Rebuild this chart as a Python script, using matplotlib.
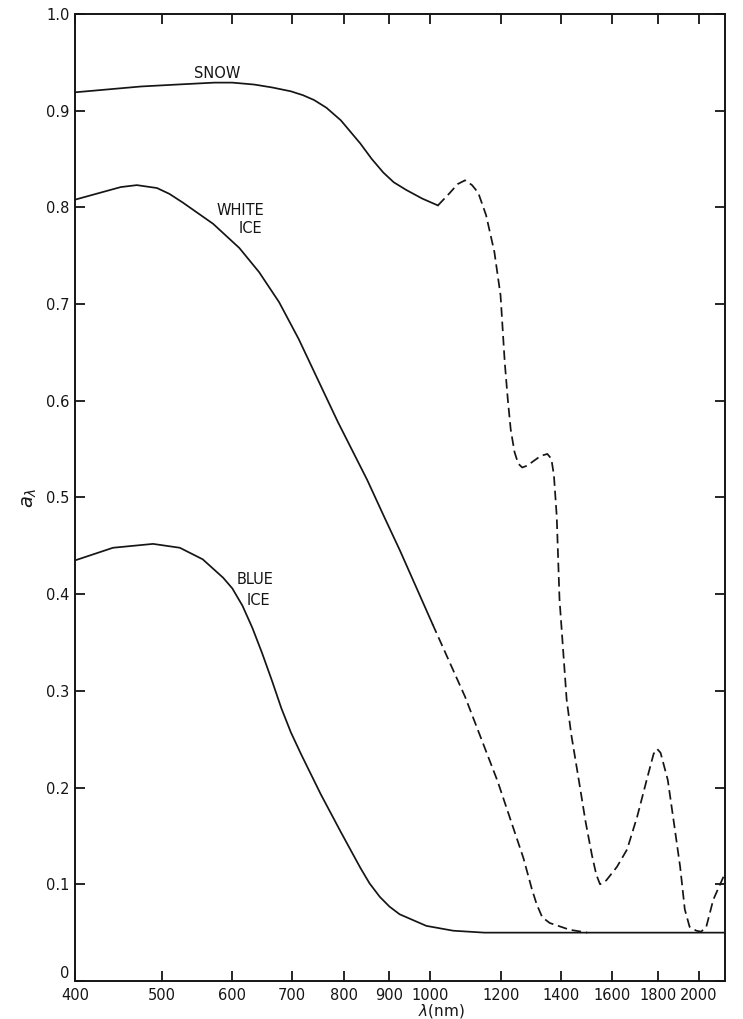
import matplotlib
matplotlib.use("Agg")
import matplotlib.pyplot as plt
from matplotlib.ticker import FixedLocator, FixedFormatter, NullLocator

# ---- data ----
snow_solid_wl = [400, 474, 520, 573, 600, 635, 665, 698, 720, 741, 765, 794, 835, 860, 886, 910, 940, 980, 1020]
snow_solid_a = [0.919, 0.925, 0.927, 0.929, 0.929, 0.927, 0.924, 0.920, 0.916, 0.911, 0.903, 0.890, 0.866,
                0.850, 0.836, 0.826, 0.818, 0.809, 0.802]

snow_dash_wl = [1020, 1052, 1073, 1094, 1114, 1132, 1155, 1180, 1199, 1212, 1222, 1231, 1243, 1255,
                1268, 1285, 1307, 1330, 1353, 1367, 1376, 1386, 1396, 1422, 1439, 1469, 1493, 1518,
                1535, 1550, 1575, 1619, 1662, 1706, 1753, 1780, 1796, 1812, 1846, 1876, 1906, 1929,
                1953, 1987, 2012, 2039, 2076, 2132]
snow_dash_a = [0.802, 0.815, 0.824, 0.828, 0.823, 0.815, 0.792, 0.754, 0.709, 0.640, 0.600, 0.570, 0.547, 0.535,
               0.531, 0.533, 0.538, 0.543, 0.545, 0.540, 0.523, 0.481, 0.395, 0.291, 0.255, 0.205, 0.165, 0.130,
               0.110, 0.100, 0.104, 0.118, 0.136, 0.170, 0.212, 0.235, 0.240, 0.236, 0.208, 0.163, 0.118, 0.074,
               0.056, 0.052, 0.051, 0.056, 0.084, 0.108]

white_solid_wl = [400, 430, 450, 469, 494, 510, 528, 571, 611, 643, 677, 712, 749, 788, 850, 890, 925, 1006]
white_solid_a = [0.808, 0.816, 0.821, 0.823, 0.820, 0.814, 0.805, 0.783, 0.758, 0.733, 0.702, 0.664, 0.621,
                 0.578, 0.518, 0.478, 0.445, 0.369]

white_dash_wl = [1006, 1094, 1190, 1272, 1300, 1316, 1335, 1361, 1433, 1500]
white_dash_a = [0.369, 0.294, 0.2065, 0.127, 0.095, 0.0795, 0.066, 0.060, 0.053, 0.050]

blue_wl = [400, 441, 489, 524, 556, 586, 600, 616, 632, 648, 665, 681, 698, 717, 754, 794, 835, 855,
           878, 900, 924, 990, 1061, 1150, 2140]
blue_a = [0.435, 0.448, 0.452, 0.448, 0.436, 0.417, 0.406, 0.388, 0.365, 0.339, 0.310, 0.282, 0.257,
          0.234, 0.193, 0.154, 0.117, 0.101, 0.087, 0.077, 0.069, 0.057, 0.052, 0.050, 0.050]

x_ticks = [400, 500, 600, 700, 800, 900, 1000, 1200, 1400, 1600, 1800, 2000]
x_tick_labels = ["400", "500", "600", "700", "800", "900", "1000", "1200", "1400", "1600", "1800", "2000"]
y_ticks = [0, 0.1, 0.2, 0.3, 0.4, 0.5, 0.6, 0.7, 0.8, 0.9, 1.0]
y_tick_labels = ["0", "0.1", "0.2", "0.3", "0.4", "0.5", "0.6", "0.7", "0.8", "0.9", "1.0"]

curve_labels = ["SNOW", "WHITE", "ICE", "BLUE", "ICE"]
curve_label_wl = [577, 612, 628, 636, 642]
curve_label_a = [0.938, 0.797, 0.778, 0.415, 0.393]

# ---- figure ----
plt.rcParams['font.family'] = ['DejaVu Sans']
fig = plt.figure(figsize=(7.43, 10.19), dpi=100)
fig.patch.set_facecolor("white")
ax = fig.add_axes([0.1012, 0.0373, 0.8746, 0.949])

lw = 1.25
col = "#151515"
ax.plot(snow_solid_wl, snow_solid_a, color=col, lw=lw)
ax.plot(snow_dash_wl, snow_dash_a, color=col, lw=lw, dashes=(5.5, 2.8))
ax.plot(white_solid_wl, white_solid_a, color=col, lw=lw)
ax.plot(white_dash_wl, white_dash_a, color=col, lw=lw, dashes=(5.5, 2.8))
ax.plot(blue_wl, blue_a, color=col, lw=lw)

for t, x, y in zip(curve_labels, curve_label_wl, curve_label_a):
    ax.text(x, y, t, ha="center", va="center", fontsize=10.5, color=col)

ax.set_xscale("log")
ax.set_xlim(400, 2140)
ax.set_ylim(0, 1.0)
ax.xaxis.set_major_locator(FixedLocator(x_ticks))
ax.xaxis.set_major_formatter(FixedFormatter(x_tick_labels))
ax.xaxis.set_minor_locator(NullLocator())
ax.yaxis.set_major_locator(FixedLocator(y_ticks))
ax.yaxis.set_major_formatter(FixedFormatter(y_tick_labels))
ax.yaxis.set_minor_locator(NullLocator())

ax.tick_params(axis="both", which="major", direction="in", length=7, width=1.3,
               top=True, right=True, labelsize=10.5, colors=col, pad=4)
ax.tick_params(axis="x", pad=5)
ax.yaxis.get_major_ticks()[0].label1.set_verticalalignment("bottom")
for s in ax.spines.values():
    s.set_linewidth(1.4)
    s.set_color(col)

ax.set_xlabel(r"$\lambda$(nm)", fontsize=11, color=col)
ax.xaxis.set_label_coords(0.563, -0.022)
ax.set_ylabel(r"$a_{\lambda}$", fontsize=14, color=col)
ax.yaxis.set_label_coords(-0.055, 0.5)

fig.savefig("out.png", dpi=100, facecolor="white")
